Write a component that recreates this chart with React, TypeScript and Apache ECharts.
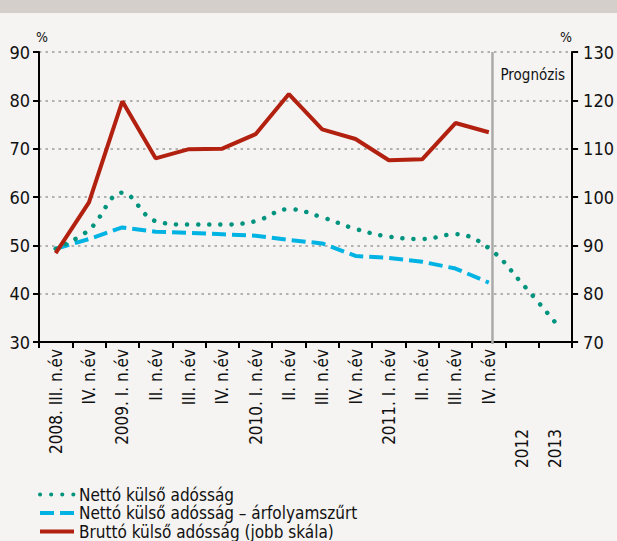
import React, { useEffect, useRef } from "react";
import * as echarts from "echarts";

const categories = [
  "2008. III. n.év", "IV. n.év", "2009. I. n.év", "II. n.év", "III. n.év", "IV. n.év",
  "2010. I. n.év", "II. n.év", "III. n.év", "IV. n.év", "2011. I. n.év", "II. n.év",
  "III. n.év", "IV. n.év", "2012", "2013",
];
const nettoValues = [49.3, 53.2, 60.9, 55.0, 54.3, 54.3, 55.0, 57.5, 55.8, 53.4, 51.8, 51.3, 52.3, 49.4, 42.1, 34.0];
const nettoFxValues = [49.3, 51.3, 53.7, 52.8, 52.6, 52.3, 52.0, 51.1, 50.4, 47.8, 47.4, 46.6, 45.2, 42.3, null, null];
const bruttoValues = [88.4, 98.9, 119.8, 108.0, 109.9, 110.0, 113.0, 121.3, 114.0, 112.0, 107.6, 107.8, 115.3, 113.4, null, null];
const leftTicks = { min: 30, max: 90, interval: 10 };
const rightTicks = { min: 70, max: 130, interval: 10 };
const seriesNames = [
  "Nettó külső adósság",
  "Nettó külső adósság – árfolyamszűrt",
  "Bruttó külső adósság (jobb skála)",
];
const forecastLabel = "Prognózis";

const FONT = '"DejaVu Sans Condensed", "DejaVu Sans", sans-serif';
const TEXT = "#111";

export default function App() {
  const ref = useRef<HTMLDivElement>(null);
  useEffect(() => {
    document.body.style.margin = "0";
    const chart = echarts.init(ref.current!, null, { renderer: "svg" });
    const axisLineStyle = { color: "#000", width: 2 };
    chart.setOption({
      animation: false,
      backgroundColor: "#f5f4f2",
      grid: { left: 39, right: 42, top: 52, bottom: 199 },
      legend: {
        orient: "vertical",
        left: 38,
        top: 486,
        padding: 0,
        itemWidth: 34,
        itemHeight: 10,
        itemGap: 1.5,
        itemStyle: { opacity: 0 },
        lineStyle: { width: 4 },
        textStyle: { fontFamily: FONT, fontSize: 17, lineHeight: 17, color: TEXT },
        data: seriesNames,
      },
      xAxis: {
        type: "category",
        data: categories,
        boundaryGap: true,
        axisLine: { lineStyle: axisLineStyle },
        axisTick: { show: true, length: 6, interval: 0, lineStyle: axisLineStyle },
        axisLabel: {
          interval: 0,
          rotate: 90,
          margin: 7,
          fontFamily: FONT,
          fontSize: 17,
          color: TEXT,
          formatter: (v: string) => (/^\d{4}$/.test(v) ? `{y|${v}}` : v),
          rich: { y: { padding: [0, 80, 0, 0], fontFamily: FONT, fontSize: 17, color: TEXT } },
        },
      },
      yAxis: [
        {
          type: "value",
          position: "left",
          ...leftTicks,
          name: "%",
          nameLocation: "end",
          nameGap: 8,
          nameTextStyle: { fontFamily: FONT, fontSize: 14, color: TEXT, align: "left", padding: [0, 0, 0, -3] },
          axisLine: { show: true, lineStyle: axisLineStyle },
          axisTick: { show: true, length: 6, lineStyle: axisLineStyle },
          axisLabel: { margin: 9, fontFamily: FONT, fontSize: 18, color: TEXT },
          splitLine: { show: true, lineStyle: { color: "#9a9a9a", width: 1.5, type: [2.5, 4] } },
        },
        {
          type: "value",
          position: "right",
          ...rightTicks,
          name: "%",
          nameLocation: "end",
          nameGap: 8,
          nameTextStyle: { fontFamily: FONT, fontSize: 14, color: TEXT, align: "right" },
          axisLine: { show: true, lineStyle: axisLineStyle },
          axisTick: { show: true, length: 6, lineStyle: axisLineStyle },
          axisLabel: { margin: 11, fontFamily: FONT, fontSize: 18, color: TEXT },
          splitLine: { show: false },
        },
      ],
      series: [
        {
          name: seriesNames[1],
          type: "line",
          yAxisIndex: 0,
          data: nettoFxValues,
          symbol: "none",
          z: 2,
          lineStyle: { color: "#00b3e3", width: 4, type: [14, 6] },
          itemStyle: { color: "#00b3e3" },
        },
        {
          name: seriesNames[0],
          type: "line",
          yAxisIndex: 0,
          data: nettoValues,
          smooth: 0.4,
          symbol: "none",
          z: 3,
          lineStyle: { color: "#00937e", width: 4.5, type: [0.1, 11], cap: "round" },
          itemStyle: { color: "#00937e" },
        },
        {
          name: seriesNames[2],
          type: "line",
          yAxisIndex: 1,
          data: bruttoValues,
          symbol: "none",
          z: 4,
          lineStyle: { color: "#b2200f", width: 4 },
          itemStyle: { color: "#b2200f" },
        },
      ],
    });
    const x13 = chart.convertToPixel({ xAxisIndex: 0 }, 13) as number;
    const x14 = chart.convertToPixel({ xAxisIndex: 0 }, 14) as number;
    const yTop = chart.convertToPixel({ yAxisIndex: 0 }, leftTicks.max) as number;
    const yBot = chart.convertToPixel({ yAxisIndex: 0 }, leftTicks.min) as number;
    const xl = x13 + (x14 - x13) * 0.11;
    chart.setOption({
      graphic: [
        { type: "rect", left: 0, top: 0, shape: { width: 617, height: 13 }, style: { fill: "#d4cfca" }, silent: true },
        {
          type: "line",
          shape: { x1: xl, y1: yTop, x2: xl, y2: yBot + 2 },
          style: { stroke: "#aaaaaa", lineWidth: 2.5 },
          z: 1,
        },
        {
          type: "text",
          x: xl + 8,
          y: yTop + 23,
          style: { text: forecastLabel, fontFamily: FONT, fontSize: 15, fill: TEXT, verticalAlign: "middle" },
        },
      ],
    });
    return () => chart.dispose();
  }, []);
  return <div ref={ref} style={{ width: 617, height: 541 }} />;
}
